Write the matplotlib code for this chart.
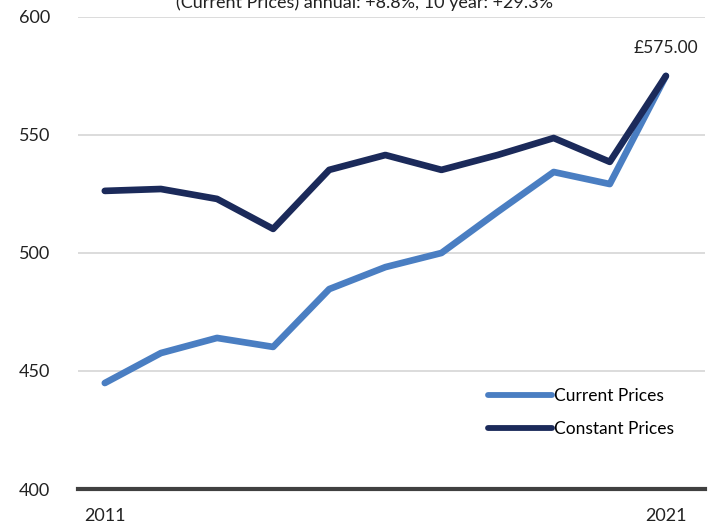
import matplotlib
matplotlib.use("Agg")
import matplotlib.pyplot as plt

plt.rcParams["font.family"] = ["Lato", "DejaVu Sans"]

years = [2011, 2012, 2013, 2014, 2015, 2016, 2017, 2018, 2019, 2020, 2021]
current_prices = [444.9, 457.6, 464.0, 460.2, 484.7, 494.0, 500.0, 517.4, 534.3, 529.2, 575.0]
constant_prices = [526.3, 527.1, 522.9, 510.2, 535.2, 541.5, 535.2, 541.5, 548.7, 538.6, 575.0]
x_labels = ["2011", "", "", "", "", "", "", "", "", "", "2021"]
subtitle = "(Current Prices) annual: +8.8%, 10 year: +29.3%"

fig = plt.figure(figsize=(7.08, 5.29), dpi=100)
ax = fig.add_axes([0.110, 0.0756, 0.886, 0.8924])

xs = list(range(len(years)))
ax.plot(xs, current_prices, color="#4A7EC2", lw=4.8, solid_capstyle="round",
        solid_joinstyle="round", label="Current Prices", zorder=3)
ax.plot(xs, constant_prices, color="#1B2A5A", lw=4.8, solid_capstyle="round",
        solid_joinstyle="round", label="Constant Prices", zorder=4)

ax.annotate(f"£{constant_prices[-1]:.2f}", (xs[-1], constant_prices[-1]),
            xytext=(0, 14), textcoords="offset points", ha="center",
            va="bottom", fontsize=12.5, color="#222222")

ax.set_xlim(-0.48, 10.7)
ax.set_ylim(400, 600)
ax.set_yticks([400, 450, 500, 550, 600])
ax.set_xticks(xs)
ax.set_xticklabels(x_labels)
ax.tick_params(axis="both", length=0, labelsize=13, colors="#222222")
ax.tick_params(axis="x", pad=14)
ax.tick_params(axis="y", pad=20)

ax.grid(axis="y", color="#D9D9D9", lw=1.3)
ax.set_axisbelow(True)
for s in ["top", "right", "left"]:
    ax.spines[s].set_visible(False)
ax.spines["bottom"].set_color("#404040")
ax.spines["bottom"].set_linewidth(3)
ax.spines["bottom"].set_zorder(5)

leg = ax.legend(loc="lower right", bbox_to_anchor=(0.975, 0.077), frameon=False,
                fontsize=12.5, handlelength=3.7, handletextpad=0.1,
                labelspacing=1.0)
for line in leg.get_lines():
    line.set_linewidth(4.2)
    line.set_solid_capstyle("round")

fig.text(0.515, 1 - 8 / 529, subtitle, ha="center", va="baseline",
         fontsize=13, color="#222222")

fig.savefig("out.png", dpi=100)
